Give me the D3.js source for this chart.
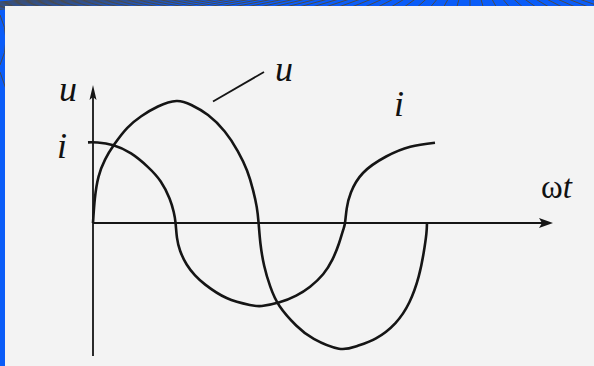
<!DOCTYPE html>
<html>
<head>
<meta charset="utf-8">
<script src="https://cdn.jsdelivr.net/npm/d3@7"></script>
<style>
  body { margin: 0; background: #f3f3f3; }
  svg { display: block; }
  .lbl { font-family: "Liberation Serif", "DejaVu Serif", serif; fill: #111; }
</style>
</head>
<body>
<div id="chart"></div>
<script>
// u curve: phase angle (deg) and value (relative to u peak)
var wtU = [0, 2, 6, 13, 23, 37, 52, 70, 90,
           106, 124, 142, 156, 166, 172.5, 176.5, 178.5,
           180.5, 184.5, 191, 201, 219, 238, 265,
           284, 305, 326, 341, 351, 356.5, 359.3, 360];
var uVals = [0, 0.2, 0.38, 0.52, 0.645, 0.78, 0.875, 0.955, 1.0,
             0.967, 0.885, 0.75, 0.59, 0.43, 0.27, 0.13, 0,
             -0.17, -0.35, -0.52, -0.68, -0.84, -0.95, -1.03,
             -1.01, -0.945, -0.82, -0.65, -0.44, -0.24, -0.09, 0];

// i curve
var wtI = [-5.4, 5, 22, 41, 59, 73, 82.5, 87, 89,
           90.5, 94, 101, 110, 121, 144, 169, 182, 201, 219, 234, 248, 258, 265, 269.5, 271.6,
           273.5, 278, 291, 316, 342, 368.6];
var iVals = [0.661, 0.66, 0.637, 0.57, 0.46, 0.34, 0.2, 0.09, 0,
             -0.12, -0.23, -0.34, -0.43, -0.505, -0.615, -0.672, -0.68, -0.65, -0.595, -0.522, -0.42, -0.3, -0.17, -0.06, 0,
             0.12, 0.25, 0.41, 0.545, 0.625, 0.658];

var width = 594, height = 366;

var svg = d3.select('#chart').append('svg')
    .attr('width', width)
    .attr('height', height);

// paper
svg.append('rect').attr('width', width).attr('height', height).attr('fill', '#f3f3f3');

// blue frame (top + left) with the dark line pattern
var frame = svg.append('g');
frame.append('rect').attr('x', 0).attr('y', 0).attr('width', width).attr('height', 6).attr('fill', '#0a5cf8');
frame.append('rect').attr('x', 0).attr('y', 0).attr('width', 5).attr('height', height).attr('fill', '#0a5cf8');
var clip = svg.append('clipPath').attr('id', 'frameClip');
clip.append('rect').attr('width', width).attr('height', 6);
clip.append('rect').attr('width', 5).attr('height', 110);
var pat = svg.append('g').attr('clip-path', 'url(#frameClip)')
    .attr('stroke', '#4a4a4a').attr('stroke-width', 1).attr('fill', 'none');
// fan of lines from a point above the band
d3.range(-40, 41).forEach(function (k) {
  pat.append('line').attr('x1', 470).attr('y1', -40).attr('x2', 470 + k * 14).attr('y2', 10);
});
pat.append('path').attr('d', 'M0,15 Q12,40 0,65 M0,72 L7,92');

var x = d3.scaleLinear().domain([0, 360]).range([93, 427]);
var y = d3.scaleLinear().domain([-1, 1]).range([345, 101]);

var ink = '#151515';

// axes
var g = svg.append('g');
g.append('line')
    .attr('x1', x(0)).attr('x2', x(0))
    .attr('y1', 356).attr('y2', 90)
    .attr('stroke', ink).attr('stroke-width', 1.8);
g.append('line')
    .attr('x1', x(0)).attr('x2', 548)
    .attr('y1', y(0)).attr('y2', y(0))
    .attr('stroke', ink).attr('stroke-width', 1.8);
// arrow heads
g.append('path')
    .attr('d', 'M' + x(0) + ',85 L' + (x(0) + 3.5) + ',100 L' + x(0) + ',97 L' + (x(0) - 3.5) + ',100 Z')
    .attr('fill', ink);
g.append('path')
    .attr('d', 'M553,' + y(0) + ' L539,' + (y(0) - 5) + ' L542,' + y(0) + ' L539,' + (y(0) + 5) + ' Z')
    .attr('fill', ink);

var line = d3.line()
    .x(function (d) { return x(d[0]); })
    .y(function (d) { return y(d[1]); })
    .curve(d3.curveNatural);

var uData = wtU.map(function (w, k) { return [w, uVals[k]]; });
var iData = wtI.map(function (w, k) { return [w, iVals[k]]; });

g.append('path').datum(uData).attr('d', line)
    .attr('fill', 'none').attr('stroke', ink).attr('stroke-width', 2.6);
g.append('path').datum(iData).attr('d', line)
    .attr('fill', 'none').attr('stroke', ink).attr('stroke-width', 2.6);

// leader line for u
g.append('line')
    .attr('x1', 213).attr('y1', 101.5)
    .attr('x2', 264).attr('y2', 72)
    .attr('stroke', ink).attr('stroke-width', 1.8);

// labels
function label(txt, px, py, italic, size) {
  svg.append('text').attr('class', 'lbl')
      .attr('x', px).attr('y', py)
      .attr('font-size', size || 36)
      .attr('font-style', italic ? 'italic' : 'normal')
      .text(txt);
}
label('u', 59, 100.5, true);
label('i', 57, 158, true);
label('u', 275, 81, true);
label('i', 394, 116, true);

var wt = svg.append('text').attr('class', 'lbl')
    .attr('x', 541).attr('y', 198).attr('font-size', 33);
wt.append('tspan').text('ω');
wt.append('tspan').attr('font-style', 'italic').text('t');
</script>
</body>
</html>
